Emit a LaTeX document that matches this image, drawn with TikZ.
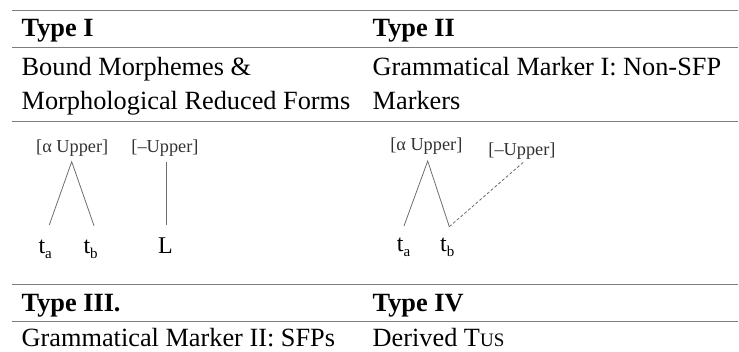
\documentclass[tikz,border=0pt]{standalone}
\usepackage{fontspec}
\setmainfont{Liberation Serif}
\definecolor{rulegray}{RGB}{125,125,125}
\definecolor{treegray}{RGB}{110,110,110}
\definecolor{feattext}{RGB}{50,50,50}
\newcommand{\mainsize}{\fontsize{26.3}{33.6}\selectfont}
\newcommand{\featsize}{\fontsize{18.3}{20}\selectfont}
\newcommand{\segsize}{\fontsize{24}{26}\selectfont}
\newcommand{\subsz}{\fontsize{15}{16}\selectfont}
\newcommand{\segsub}[2]{#1\raisebox{-0.22em}{\subsz #2}}
\begin{document}
\begin{tikzpicture}[x=1pt,y=-1pt,
  rulestyle/.style={draw=rulegray,line width=1.4pt},
  txt/.style={anchor=base west,inner sep=0pt,outer sep=0pt,font=\mainsize},
  hdr/.style={txt,font=\mainsize\bfseries},
  feat/.style={anchor=base,inner sep=0pt,font=\featsize,text=feattext},
  seg/.style={anchor=base west,inner sep=0pt,font=\segsize},
  branch/.style={draw=treegray,line width=0.8pt},
  dbranch/.style={branch,dash pattern=on 3pt off 2pt}]
\useasboundingbox (0,0) rectangle (739,352);
% table rules
\foreach \yy in {10.7,47.3,121.7,284.7,321.3}{
  \draw[rulestyle] (12,\yy) -- (738,\yy);
}
% headers and cells
\node[hdr] (t1) at (21.7,36.7) {Type I};
\node[hdr] (t2) at (372.7,36.7) {Type II};
\node[txt] (c1a) at (21.7,75.7) {Bound Morphemes \&};
\node[txt] (c1b) at (21.7,109.3) {Morphological Reduced Forms};
\node[txt] (c2a) at (372.7,75.7) {Grammatical Marker I: Non-SFP};
\node[txt] (c2b) at (372.7,109.3) {Markers};
\node[hdr] (t3) at (21.7,311.7) {Type III.};
\node[hdr] (t4) at (372.7,311.7) {Type IV};
\node[txt] (c3) at (21.7,347) {Grammatical Marker II: SFPs};
\node[txt] (c4) at (372.7,347) {Derived T{\fontsize{19}{20}\selectfont US}};
% left tree
\node[feat] (fa1) at (72.2,152.7) {[α Upper]};
\node[feat] (fm1) at (165,152.7) {[–Upper]};
\coordinate (ap1) at (71.7,161.7);
\coordinate (la1) at (49.3,225);
\coordinate (lb1) at (94,225.7);
\coordinate (lt1) at (166,162.3);
\coordinate (lL1) at (166,225);
\draw[branch] (la1) -- (ap1) -- (lb1);
\draw[branch] (lt1) -- (lL1);
\node[seg] (ta1) at (38.3,253.3) {\segsub{t}{a}};
\node[seg] (tb1) at (83.3,253.3) {\segsub{t}{b}};
\node[seg] (L1) at (158,254) {L};
% right tree
\node[feat] (fa2) at (426.3,150.7) {[α Upper]};
\node[feat] (fm2) at (522,156) {[–Upper]};
\coordinate (ap2) at (427.7,161);
\coordinate (la2) at (404,226);
\coordinate (lb2) at (449.3,226.7);
\coordinate (lm2) at (523.3,162.3);
\draw[branch] (la2) -- (ap2) -- (lb2);
\draw[dbranch] (lb2) -- (lm2);
\node[seg] (ta2) at (396.7,251.7) {\segsub{t}{a}};
\node[seg] (tb2) at (440,251.7) {\segsub{t}{b}};
\end{tikzpicture}
\end{document}
